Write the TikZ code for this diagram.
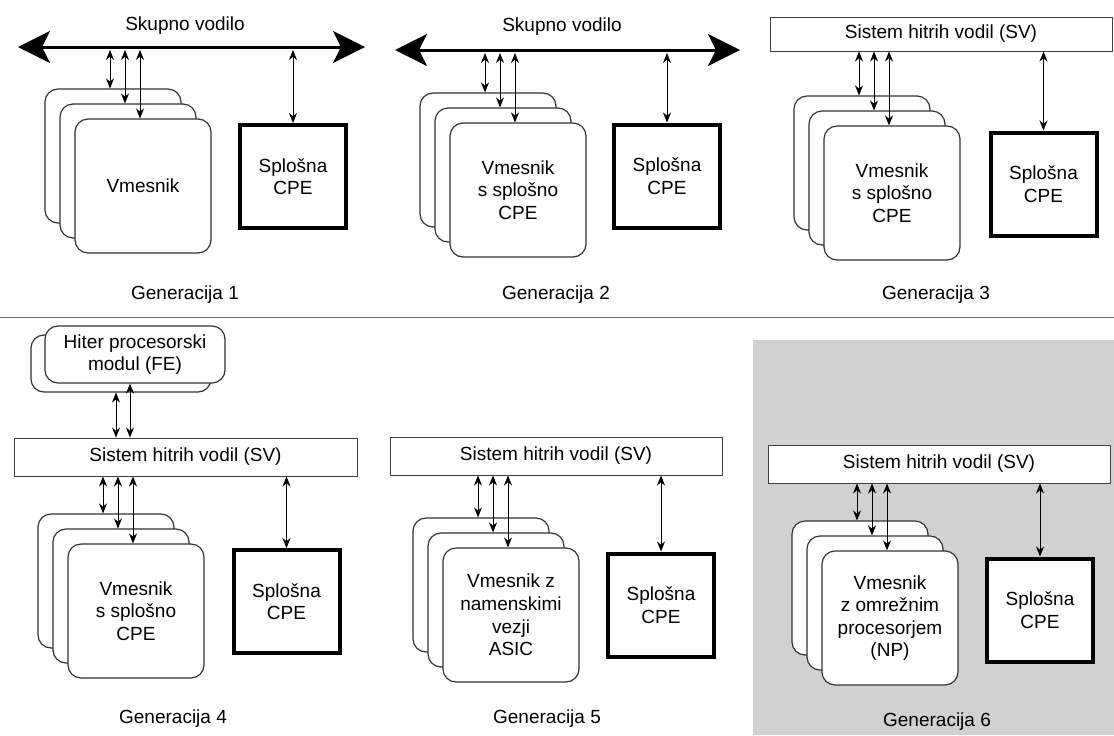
\documentclass[tikz,border=0pt]{standalone}
\usepackage{fontspec}
\setmainfont{Liberation Sans}
\usetikzlibrary{arrows.meta}
\tikzset{
  card/.style={draw=black!80, line width=0.6pt, fill=white, rounded corners=6.5pt,
    minimum width=68pt, minimum height=67pt, align=center, inner sep=1pt},
  fecard/.style={card, minimum width=90pt, minimum height=28.5pt},
  cpu/.style={draw=black, line width=2pt, fill=white, minimum width=53pt,
    minimum height=51.5pt, align=center},
  svbox/.style={draw=black!75, line width=0.5pt, fill=white, minimum height=19pt},
  link/.style={{Stealth[length=5pt,width=4pt]}-{Stealth[length=5pt,width=4pt]}, line width=0.5pt},
  busline/.style={{Stealth[length=16pt,width=16pt,inset=4pt]}-{Stealth[length=16pt,width=16pt,inset=4pt]}, line width=1.5pt},
  genlabel/.style={anchor=base},
}

\begin{document}
\begin{tikzpicture}[x=0.5pt, y=-0.5pt, font=\fontsize{9.5}{11.3}\selectfont]
  \useasboundingbox (0,0) rectangle (1114,735);
  % shaded area behind generation 6
  \fill[black!18] (753,340) rectangle (1114,735);
  % divider between the two rows
  \draw[black!60, line width=0.5pt] (0,317) -- (1114,317);

  % Generacija 1
  \coordinate (b1l) at (18,47);
  \coordinate (b1r) at (365,47);
  \coordinate (bus1) at (190,50);
  \draw[busline] (b1l) -- (b1r);
  \node[anchor=base] (t1) at (185,30) {Skupno vodilo};
  \foreach \n/\d in {a/30, b/15}
    \node[card] (c1\n) at (143-\d,186-\d) {};
  \node[card] (c1c) at (143,186) {Vmesnik};
  \node[cpu] (p1) at (293,176.5) {Splošna\\CPE};
  \foreach \n in {a,b,c}
    \draw[link] ([xshift=-1.5pt]c1\n.north) -- ([xshift=-1.5pt]c1\n.north |- bus1);
  \draw[link] (p1.north) -- (p1.north |- bus1);
  \node[genlabel] (g1) at (185,299) {Generacija 1};

  % Generacija 2
  \coordinate (b2l) at (395,50);
  \coordinate (b2r) at (740,50);
  \coordinate (bus2) at (560,53);
  \draw[busline] (b2l) -- (b2r);
  \node[anchor=base] (t2) at (562,31) {Skupno vodilo};
  \foreach \n/\d in {a/30, b/15}
    \node[card] (c2\n) at (518-\d,190-\d) {};
  \node[card] (c2c) at (518,190) {Vmesnik\\s splošno\\CPE};
  \node[cpu] (p2) at (667,176) {Splošna\\CPE};
  \foreach \n in {a,b,c}
    \draw[link] ([xshift=-1.5pt]c2\n.north) -- ([xshift=-1.5pt]c2\n.north |- bus2);
  \draw[link] (p2.north) -- (p2.north |- bus2);
  \node[genlabel] (g2) at (556,299) {Generacija 2};

  % Generacija 3
  \node[svbox, minimum width=171pt, minimum height=17pt] (sv3) at (941,34) {Sistem hitrih vodil (SV)};
  \foreach \n/\d in {a/30, b/15}
    \node[card] (c3\n) at (892-\d,193-\d) {};
  \node[card] (c3c) at (892,193) {Vmesnik\\s splošno\\CPE};
  \node[cpu] (p3) at (1043.5,184) {Splošna\\CPE};
  \foreach \n in {a,b,c}
    \draw[link] ([xshift=-1.5pt]c3\n.north) -- ([xshift=-1.5pt]c3\n.north |- sv3.south);
  \draw[link] (p3.north) -- (p3.north |- sv3.south);
  \node[genlabel] (g3) at (936,299) {Generacija 3};

  % Generacija 4
  \node[fecard] (f4a) at (121,363.5) {};
  \node[fecard] (f4b) at (135,354.5) {Hiter procesorski\\modul (FE)};
  \node[svbox, minimum width=171.5pt] (sv4) at (185.5,457) {Sistem hitrih vodil (SV)};
  \foreach \n in {a,b}
    \draw[link] ([xshift=-2.5pt]f4\n.south) -- ([xshift=-2.5pt]f4\n.south |- sv4.north);
  \foreach \n/\d in {a/30, b/15}
    \node[card] (c4\n) at (136-\d,611-\d) {};
  \node[card] (c4c) at (136,611) {Vmesnik\\s splošno\\CPE};
  \node[cpu] (p4) at (286.5,601.5) {Splošna\\CPE};
  \foreach \n in {a,b,c}
    \draw[link] ([xshift=-1.5pt]c4\n.north) -- ([xshift=-1.5pt]c4\n.north |- sv4.south);
  \draw[link] (p4.north) -- (p4.north |- sv4.south);
  \node[genlabel] (g4) at (173,723) {Generacija 4};

  % Generacija 5
  \node[svbox, minimum width=166pt] (sv5) at (556,456) {Sistem hitrih vodil (SV)};
  \foreach \n/\d in {a/30, b/15}
    \node[card] (c5\n) at (511-\d,615-\d) {};
  \node[card] (c5c) at (511,615) {Vmesnik z\\namenskimi\\vezji\\ASIC};
  \node[cpu] (p5) at (661,605) {Splošna\\CPE};
  \foreach \n in {a,b,c}
    \draw[link] ([xshift=-1.5pt]c5\n.north) -- ([xshift=-1.5pt]c5\n.north |- sv5.south);
  \draw[link] (p5.north) -- (p5.north |- sv5.south);
  \node[genlabel] (g5) at (547,723) {Generacija 5};

  % Generacija 6
  \node[svbox, minimum width=171pt] (sv6) at (939,464) {Sistem hitrih vodil (SV)};
  \foreach \n/\d in {a/30, b/15}
    \node[card] (c6\n) at (890-\d,618-\d) {};
  \node[card] (c6c) at (890,618) {Vmesnik\\z omrežnim\\procesorjem\\(NP)};
  \node[cpu] (p6) at (1040,610) {Splošna\\CPE};
  \foreach \n in {a,b,c}
    \draw[link] ([xshift=-1.5pt]c6\n.north) -- ([xshift=-1.5pt]c6\n.north |- sv6.south);
  \draw[link] (p6.north) -- (p6.north |- sv6.south);
  \node[genlabel] (g6) at (937,726) {Generacija 6};
\end{tikzpicture}
\end{document}
